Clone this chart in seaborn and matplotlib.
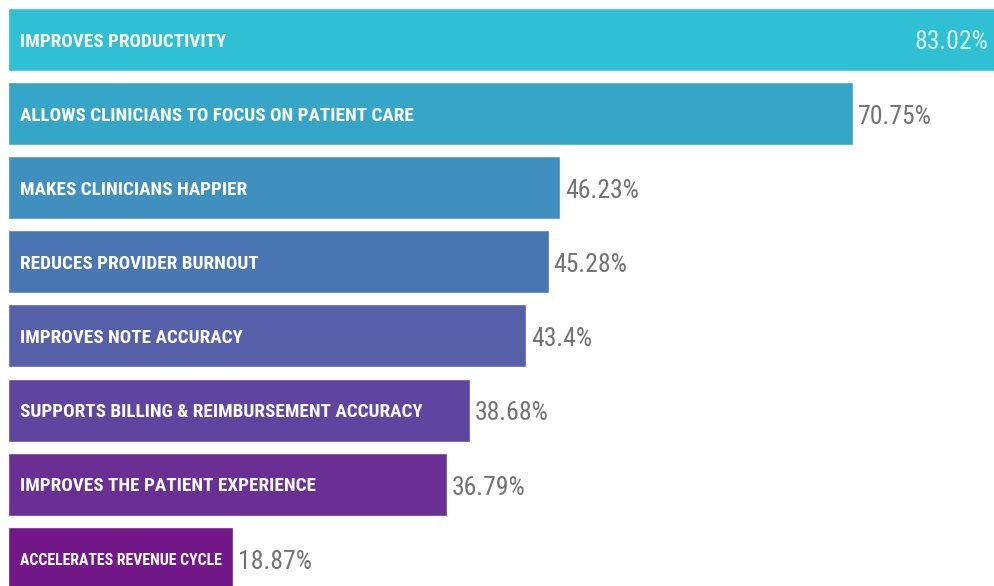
import matplotlib
matplotlib.use("Agg")
import matplotlib.pyplot as plt
from matplotlib import font_manager
import seaborn as sns
import pandas as pd

# data
benefits = [
    "IMPROVES PRODUCTIVITY",
    "ALLOWS CLINICIANS TO FOCUS ON PATIENT CARE",
    "MAKES CLINICIANS HAPPIER",
    "REDUCES PROVIDER BURNOUT",
    "IMPROVES NOTE ACCURACY",
    "SUPPORTS BILLING & REIMBURSEMENT ACCURACY",
    "IMPROVES THE PATIENT EXPERIENCE",
    "ACCELERATES REVENUE CYCLE",
]
shares = [83.02, 70.75, 46.23, 45.28, 43.4, 38.68, 36.79, 18.87]
value_labels = ["83.02%", "70.75%", "46.23%", "45.28%", "43.4%", "38.68%", "36.79%", "18.87%"]
bar_colors = ["#2fc0d3", "#36a6c8", "#4090bf", "#4a76b4", "#5560a8",
              "#6045a0", "#6a2f95", "#731888"]

df = pd.DataFrame({"benefit": benefits, "share": shares})


def has_font(name):
    try:
        font_manager.findfont(font_manager.FontProperties(family=name),
                              fallback_to_default=False)
        return True
    except ValueError:
        return False


# a narrow font, if there is one
narrow, label_size, value_size = "Roboto", 12, 15.5
for fam, lsize, vsize in [("Roboto Condensed", 13.8, 18.5),
                          ("Liberation Sans Narrow", 13.5, 17),
                          ("DejaVu Sans Condensed", 12, 15)]:
    if has_font(fam):
        narrow, label_size, value_size = fam, lsize, vsize
        break

sns.set_style("white")
fig = plt.figure(figsize=(9.94, 5.86), dpi=100)
ax = fig.add_axes([0, 0, 1, 1])

sns.barplot(data=df, x="share", y="benefit", hue="benefit",
            palette=bar_colors, legend=False, orient="h",
            width=0.85, saturation=1, ax=ax)

ax.set_xlim(-0.67, 82.58)
ax.set_ylim(7.375, -0.533)
ax.axis("off")

label_font = dict(family=[narrow, "DejaVu Sans"], weight="bold")
value_font = dict(family=[narrow, "DejaVu Sans"], weight="normal")

renderer = fig.canvas.get_renderer()
for i, (name, val, txt) in enumerate(zip(benefits, shares, value_labels)):
    lab = ax.annotate(name, xy=(0, i), xytext=(9, -1.5), textcoords="offset points",
                      ha="left", va="center", color="white", fontsize=label_size,
                      **label_font)
    # squeeze the label when it would run past the end of its bar
    room = ax.transData.transform((val, i))[0] - ax.transData.transform((0, i))[0] - 24
    w = lab.get_window_extent(renderer).width
    if w > room:
        lab.set_fontsize(label_size * room / w)
    if i == 0:
        ax.annotate(txt, xy=(1, i), xycoords=("axes fraction", "data"),
                    xytext=(-4, -1.5), textcoords="offset points",
                    ha="right", va="center", color="#d3f2f6", fontsize=value_size,
                    **value_font)
    else:
        ax.annotate(txt, xy=(val, i), xytext=(3.5, -2.5), textcoords="offset points",
                    ha="left", va="center", color="#737373", fontsize=value_size,
                    **value_font)

fig.savefig("out.png", dpi=100)
